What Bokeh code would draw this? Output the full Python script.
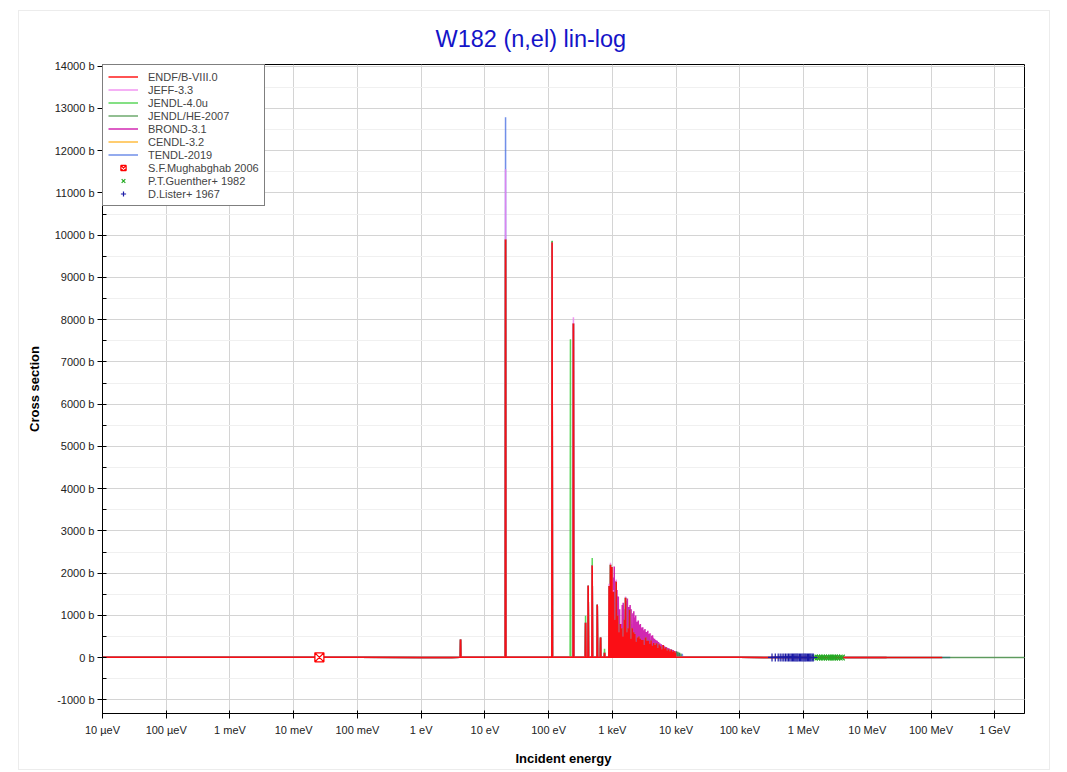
from bokeh.plotting import figure
from bokeh.models import (Range1d, FixedTicker, SingleIntervalTicker,
                          PrintfTickFormatter, Legend, LegendItem)
from bokeh.embed import file_html
from bokeh.resources import INLINE

# ---------------- data (energies in eV, cross sections in barns) ----------------
x_tick_values = [1e-5, 1e-4, 1e-3, 1e-2, 1e-1, 1e0, 1e1, 1e2, 1e3, 1e4, 1e5, 1e6, 1e7, 1e8, 1e9]
x_tick_labels = ["10 µeV", "100 µeV", "1 meV", "10 meV", "100 meV", "1 eV", "10 eV", "100 eV",
                 "1 keV", "10 keV", "100 keV", "1 MeV", "10 MeV", "100 MeV", "1 GeV"]

# smooth part below the resonances (common)
low_E = [1e-5, 1e-4, 1e-3, 1e-2, 0.0253, 0.1, 1.0, 3.0]
low_xs = [14, 11, 9.5, 8.8, 8.6, 8.4, 8.2, 8.0]

# resolved resonances, ENDF/B-VIII.0
endf_res_E = [4.15, 21.1, 113.5, 245, 380, 418, 483, 580, 653, 754,
              890, 935, 985, 1040, 1100, 1150, 1210, 1270, 1330, 1400, 1470, 1540, 1610, 1690,
              1770, 1860, 1950, 2050, 2150, 2260, 2370, 2490, 2610, 2740, 2880, 3020, 3170,
              3330, 3500, 3670, 3850, 4050, 4250, 4460, 4680, 4920, 5160, 5420, 5690, 5980,
              6280, 6590, 6920, 7270, 7630, 8010, 8410, 8830, 9270, 9740]
endf_res_xs = [430, 9900, 9830, 7910, 830, 1706, 2180, 1256, 480, 118,
               1700, 2200, 2150, 1560, 900, 1800, 1000, 600, 800, 700, 500, 900, 1420, 600,
               700, 1137, 450, 700, 600, 560, 380, 480, 500, 450, 420, 420, 300,
               480, 400, 400, 330, 410, 280, 350, 300, 340, 230, 310, 270, 200,
               300, 220, 240, 170, 200, 150, 190, 140, 160, 120]

# JEFF-3.3 differs visibly only at a few resonances
jeff_res_E = endf_res_E
jeff_res_xs = [430, 11560, 9830, 8060, 830, 1706, 2180, 1256, 480, 118,
               1750, 2250, 2150, 1600, 900, 1850, 1000, 600, 800, 700, 500, 900, 1450, 600,
               700, 1137, 450, 700, 600, 560, 380, 480, 500, 450, 420, 420, 300,
               480, 400, 400, 330, 410, 280, 350, 300, 340, 230, 310, 270, 200,
               300, 220, 240, 170, 200, 150, 190, 140, 160, 120]

# JENDL-4.0u (low-energy part differs)
jendl4_res_E = [4.15, 21.1, 113.5, 220, 380, 418, 483, 580, 653, 754] + endf_res_E[10:]
jendl4_res_xs = [430, 9900, 9865, 7535, 995, 1706, 2360, 1256, 480, 213] + endf_res_xs[10:]

# JENDL/HE-2007 (extends a bit further)
jendlhe_res_E = endf_res_E + [10200, 10700, 11300, 11900]
jendlhe_res_xs = endf_res_xs[:2] + [9870] + endf_res_xs[3:] + [150, 140, 120, 100]

# BROND-3.1 (taller peaks between 1 and 10 keV)
brond_res_E = [4.15, 21.1, 113.5, 245, 380, 418, 483, 580, 653, 754,
               1015, 1070, 1120, 1180, 1240, 1300, 1360, 1430, 1480, 1580, 1650, 1720, 1810,
               1900, 1970, 2100, 2170, 2210, 2320, 2430, 2550, 2680, 2750, 2810, 2950, 3000,
               3100, 3250, 3410, 3600, 3760, 3900, 4150, 4270, 4360, 4600, 4800, 5050, 5300,
               5550, 5850, 6150, 6450, 6750, 7100, 7450, 7800, 8200, 8600, 9050, 9500, 9900]
brond_res_xs = [430, 9900, 9830, 7910, 830, 1706, 2180, 1256, 480, 118,
                1900, 2160, 1810, 1600, 1450, 1150, 800, 1250, 1300, 1150, 1350, 1400, 1200,
                1250, 1150, 1050, 1100, 950, 1000, 850, 880, 780, 800, 720, 700, 720,
                650, 680, 610, 640, 560, 580, 520, 530, 470, 450, 420, 400, 370,
                340, 320, 300, 280, 260, 250, 230, 220, 200, 190, 180, 160, 150]

cendl_res_E = endf_res_E
cendl_res_xs = endf_res_xs

tendl_res_E = endf_res_E + [10300, 11200, 12500]
tendl_res_xs = endf_res_xs[:1] + [12790] + endf_res_xs[2:] + [130, 110, 95]

# smooth part above the resonances
hi_E_endf = [1.2e4, 2e4, 1e5, 3e5, 1e6, 3e6, 1e7, 2e7, 1e8, 1.5e8]
hi_xs_endf = [10, 10, 9, 8, 6, 4, 3, 2.8, 2.6, 2.6]
hi_E_20 = [1.2e4, 2e4, 1e5, 3e5, 1e6, 3e6, 1e7, 2e7]
hi_xs_20 = [10, 10, 9, 8, 6, 4, 3, 2.8]
hi_E_he = [1.3e4, 2e4, 1e5, 3e5, 1e6, 3e6, 1e7, 2e7, 1e8, 1e9, 3e9]
hi_xs_he = [10, 10, 9, 8, 6, 4, 3, 2.8, 2.6, 2.5, 2.5]
hi_E_tendl = [1.3e4, 2e4, 1e5, 3e5, 1e6, 3e6, 1e7, 2e7, 1e8, 2e8]
hi_xs_tendl = [10, 10, 9, 8, 6, 4, 3, 2.8, 2.6, 2.6]

# experimental data
mugh_E = [0.0253]
mugh_xs = [8.6]
guenther_E = [1.5e6, 1.65e6, 1.8e6, 1.95e6, 2.1e6, 2.3e6, 2.5e6, 2.7e6, 2.9e6, 3.1e6, 3.4e6, 3.7e6, 4.0e6]
guenther_xs = [4.6, 4.5, 4.4, 4.3, 4.2, 4.1, 4.0, 3.9, 3.9, 3.8, 3.7, 3.7, 3.6]
lister_E = [3.2e5, 3.6e5, 4.0e5, 4.3e5, 4.6e5, 4.9e5, 5.2e5, 5.5e5, 5.8e5, 6.1e5, 6.4e5, 6.7e5,
            7.0e5, 7.3e5, 7.6e5, 7.9e5, 8.2e5, 8.6e5, 9.0e5, 9.4e5, 9.8e5, 1.02e6, 1.06e6,
            1.1e6, 1.15e6, 1.2e6, 1.25e6, 1.3e6, 1.36e6, 1.42e6]
lister_xs = [7.5, 7.3, 7.1, 7.0, 6.9, 6.8, 6.7, 6.6, 6.5, 6.4, 6.3, 6.2, 6.1, 6.0, 5.9, 5.9,
             5.8, 5.7, 5.6, 5.6, 5.5, 5.4, 5.3, 5.3, 5.2, 5.1, 5.0, 5.0, 4.9, 4.8]

# ---------------- helpers ----------------
SPIKE_HALF = 0.012
BASE = 10.0


def curve(res_E, res_xs, hi_E, hi_xs):
    xs, ys = list(low_E), list(low_xs)
    for e, s in zip(res_E, res_xs):
        xs += [e * (1 - SPIKE_HALF), e, e * (1 + SPIKE_HALF)]
        ys += [BASE, s, BASE]
    xs += list(hi_E)
    ys += list(hi_xs)
    return xs, ys


FONT = "Liberation Sans"

p = figure(width=1032, height=760, x_axis_type="log",
           x_range=Range1d(1e-5, 2.93e9), y_range=Range1d(-1320, 14040),
           output_backend="svg", toolbar_location=None,
           min_border_left=83, min_border_right=27, min_border_top=53, min_border_bottom=58)
p.margin = (10, 0, 0, 18)
p.styles = {"border": "1px solid #ececec"}

p.title.text = "W182 (n,el) lin-log"
p.title.text_font = FONT
p.title.text_font_size = "23.5px"
p.title.text_font_style = "normal"
p.title.text_color = "#1414c8"
p.title.align = "left"
p.title.offset = 333
p.title.standoff = 25

p.outline_line_color = "black"
p.outline_line_width = 1

# axes
xa = p.xaxis[0]
xa.ticker = FixedTicker(ticks=x_tick_values, minor_ticks=[])
xa.major_label_overrides = {v: lab for v, lab in zip(x_tick_values, x_tick_labels)}
xa.axis_label = "Incident energy"
ya = p.yaxis[0]
ya.ticker = SingleIntervalTicker(interval=1000, num_minor_ticks=2)
ya.formatter = PrintfTickFormatter(format="%d b")
ya.axis_label = "Cross section"
for ax in (xa, ya):
    ax.axis_label_text_font = FONT
    ax.axis_label_text_font_size = "13px"
    ax.axis_label_text_font_style = "bold"
    ax.axis_label_text_color = "black"
    ax.major_label_text_font = FONT
    ax.major_label_text_font_size = "11px"
    ax.major_label_text_color = "#222222"
    ax.axis_line_color = "black"
    ax.major_tick_line_color = "black"
    ax.minor_tick_line_color = "black"
xa.major_tick_out = 5
xa.major_tick_in = 3
xa.major_label_standoff = 5
xa.axis_label_standoff = 12
ya.major_tick_out = 5
ya.major_tick_in = 0
ya.minor_tick_in = 4
ya.minor_tick_out = 0
ya.major_label_standoff = 3
ya.axis_label_standoff = 10

# grid
p.xgrid.grid_line_color = "#d4d4d4"
p.xgrid.ticker = FixedTicker(ticks=x_tick_values, minor_ticks=[])
p.ygrid.grid_line_color = "#d4d4d4"
p.ygrid.minor_grid_line_color = "#f0f0f0"

# curves (drawn bottom to top)
libs = [
    ("TENDL-2019", "#4169e1", tendl_res_E, tendl_res_xs, hi_E_tendl, hi_xs_tendl, 0.75),
    ("CENDL-3.2", "#ffa500", cendl_res_E, cendl_res_xs, hi_E_20, hi_xs_20, 0.75),
    ("BROND-3.1", "#cc11aa", brond_res_E, brond_res_xs, hi_E_20, hi_xs_20, 0.9),
    ("JENDL/HE-2007", "#1e7b1e", jendlhe_res_E, jendlhe_res_xs, hi_E_he, hi_xs_he, 0.65),
    ("JENDL-4.0u", "#33cc33", jendl4_res_E, jendl4_res_xs, hi_E_20, hi_xs_20, 0.8),
    ("JEFF-3.3", "#ee82ee", jeff_res_E, jeff_res_xs, hi_E_20, hi_xs_20, 0.85),
    ("ENDF/B-VIII.0", "#ff0000", endf_res_E, endf_res_xs, hi_E_endf, hi_xs_endf, 0.9),
]
rend = {}
for name, col, rE, rS, hE, hS, a in libs:
    xs, ys = curve(rE, rS, hE, hS)
    rend[name] = p.line(xs, ys, line_color=col, line_width=1.5, line_alpha=a)

r_mugh = p.scatter(mugh_E, mugh_xs, marker="square_x", size=9, line_color="#ff0000",
                   fill_color="white", line_width=1.3)
r_guen = p.scatter(guenther_E, guenther_xs, marker="x", size=8, line_color="#22aa22", line_width=1.2)
r_list = p.scatter(lister_E, lister_xs, marker="cross", size=8, line_color="#1a1aa6", line_width=1.2)

order = ["ENDF/B-VIII.0", "JEFF-3.3", "JENDL-4.0u", "JENDL/HE-2007", "BROND-3.1", "CENDL-3.2", "TENDL-2019"]
items = [LegendItem(label=n, renderers=[rend[n]]) for n in order]
items += [LegendItem(label="S.F.Mughabghab 2006", renderers=[r_mugh]),
          LegendItem(label="P.T.Guenther+ 1982", renderers=[r_guen]),
          LegendItem(label="D.Lister+ 1967", renderers=[r_list])]
legend = Legend(items=items, location="top_left", margin=0, padding=5, spacing=0,
                label_height=13, glyph_height=13, glyph_width=30, label_standoff=10,
                label_text_font=FONT, label_text_font_size="11px",
                border_line_color="black", border_line_width=1, background_fill_alpha=1.0)
p.add_layout(legend)

open("out.html", "w").write(file_html(p, INLINE))
